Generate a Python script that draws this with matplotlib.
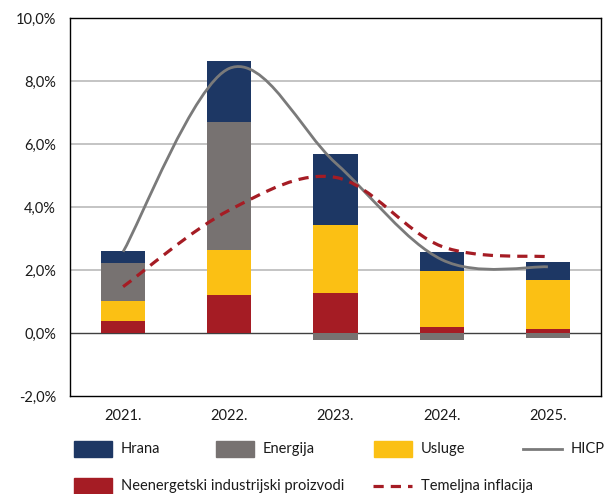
import numpy as np
import matplotlib.pyplot as plt
from matplotlib.path import Path
from matplotlib.patches import PathPatch, Rectangle
from matplotlib.lines import Line2D

plt.rcParams['font.family'] = ['Lato', 'DejaVu Sans']

years = ['2021.', '2022.', '2023.', '2024.', '2025.']
# doprinosi (postotni bodovi)
neenergetski = [0.38, 1.21, 1.27, 0.19, 0.13]
usluge = [0.64, 1.43, 2.17, 1.78, 1.56]
energija = [1.21, 4.05, -0.22, -0.23, -0.16]
hrana = [0.38, 1.94, 2.23, 0.61, 0.57]
hicp = [2.58, 8.40, 5.40, 2.33, 2.10]
temeljna = [1.47, 3.90, 4.94, 2.75, 2.42]

c_hrana = '#1d3764'
c_energ = '#777271'
c_uslug = '#fbc014'
c_neen = '#a51c24'
c_hicp = '#7a7a7a'
c_tem = '#a51c24'


def smooth_path(x, y):
    # excel-like smoothed line, cubic bezier through the points
    pts = np.column_stack([x, y]).astype(float)
    n = len(pts)
    verts = [pts[0]]
    codes = [Path.MOVETO]
    for i in range(n - 1):
        p0 = pts[max(i - 1, 0)]
        p1 = pts[i]
        p2 = pts[i + 1]
        p3 = pts[min(i + 2, n - 1)]
        verts += [p1 + (p2 - p0) / 6, p2 - (p3 - p1) / 6, p2]
        codes += [Path.CURVE4] * 3
    return Path(verts, codes)


fig = plt.figure(figsize=(6.04, 4.94), dpi=100)
ax = fig.add_axes([70 / 604, 1 - 396 / 494, 531 / 604, 378 / 494])

x = np.arange(len(years))
w = 0.415
pos_base = np.zeros(len(years))
neg_base = np.zeros(len(years))
for vals, col in [(neenergetski, c_neen), (usluge, c_uslug),
                  (energija, c_energ), (hrana, c_hrana)]:
    vals = np.array(vals)
    base = np.where(vals >= 0, pos_base, neg_base)
    ax.bar(x, vals, w, bottom=base, color=col, zorder=2)
    pos_base = pos_base + np.where(vals >= 0, vals, 0)
    neg_base = neg_base + np.where(vals < 0, vals, 0)

ax.add_patch(PathPatch(smooth_path(x, hicp), fill=False, edgecolor=c_hicp,
                       lw=2.0, zorder=3))
ax.add_patch(PathPatch(smooth_path(x, temeljna), fill=False, edgecolor=c_tem,
                       lw=2.3, linestyle=(0, (3.2, 2.2)), zorder=4))

ax.set_xlim(-0.5, 4.5)
ax.set_ylim(-2, 10)
ax.set_yticks(np.arange(-2, 10.1, 2))
ax.set_yticklabels([('%.1f' % v).replace('.', ',') + '%' for v in np.arange(-2, 10.1, 2)])
ax.set_xticks(x)
ax.set_xticklabels(years)
ax.tick_params(length=0, labelsize=10.5, colors='#1a1a1a')
ax.tick_params(axis='y', pad=10)
ax.tick_params(axis='x', pad=9)
for v in [2, 4, 6, 8]:
    ax.axhline(v, color='#bfbfbf', lw=1.3, zorder=1)
ax.axhline(0, color='#404040', lw=1.0, zorder=1)
for s in ax.spines.values():
    s.set_color('black')
    s.set_linewidth(1.0)

# legenda
W, H = 604, 494


def patch_entry(x0, yc, col, label):
    fig.add_artist(Rectangle((x0 / W, 1 - (yc + 8) / H), 38 / W, 16 / H,
                             transform=fig.transFigure, color=col))
    fig.text((x0 + 47) / W, 1 - yc / H, label, fontsize=10.5, va='center',
             color='#1a1a1a')


def line_entry(x0, yc, col, ls, lw, label):
    fig.add_artist(Line2D([x0 / W, (x0 + 39) / W], [1 - yc / H, 1 - yc / H],
                          transform=fig.transFigure, color=col, lw=lw,
                          linestyle=ls))
    fig.text((x0 + 48) / W, 1 - yc / H, label, fontsize=10.5, va='center',
             color='#1a1a1a')


patch_entry(74, 449, c_hrana, 'Hrana')
patch_entry(216, 449, c_energ, 'Energija')
patch_entry(374, 449, c_uslug, 'Usluge')
line_entry(523, 449, c_hicp, '-', 2.0, 'HICP')
patch_entry(74, 486, c_neen, 'Neenergetski industrijski proizvodi')
line_entry(373, 486, c_tem, (0, (3.2, 2.2)), 2.3, 'Temeljna inflacija')

fig.savefig('out.png', dpi=100)
